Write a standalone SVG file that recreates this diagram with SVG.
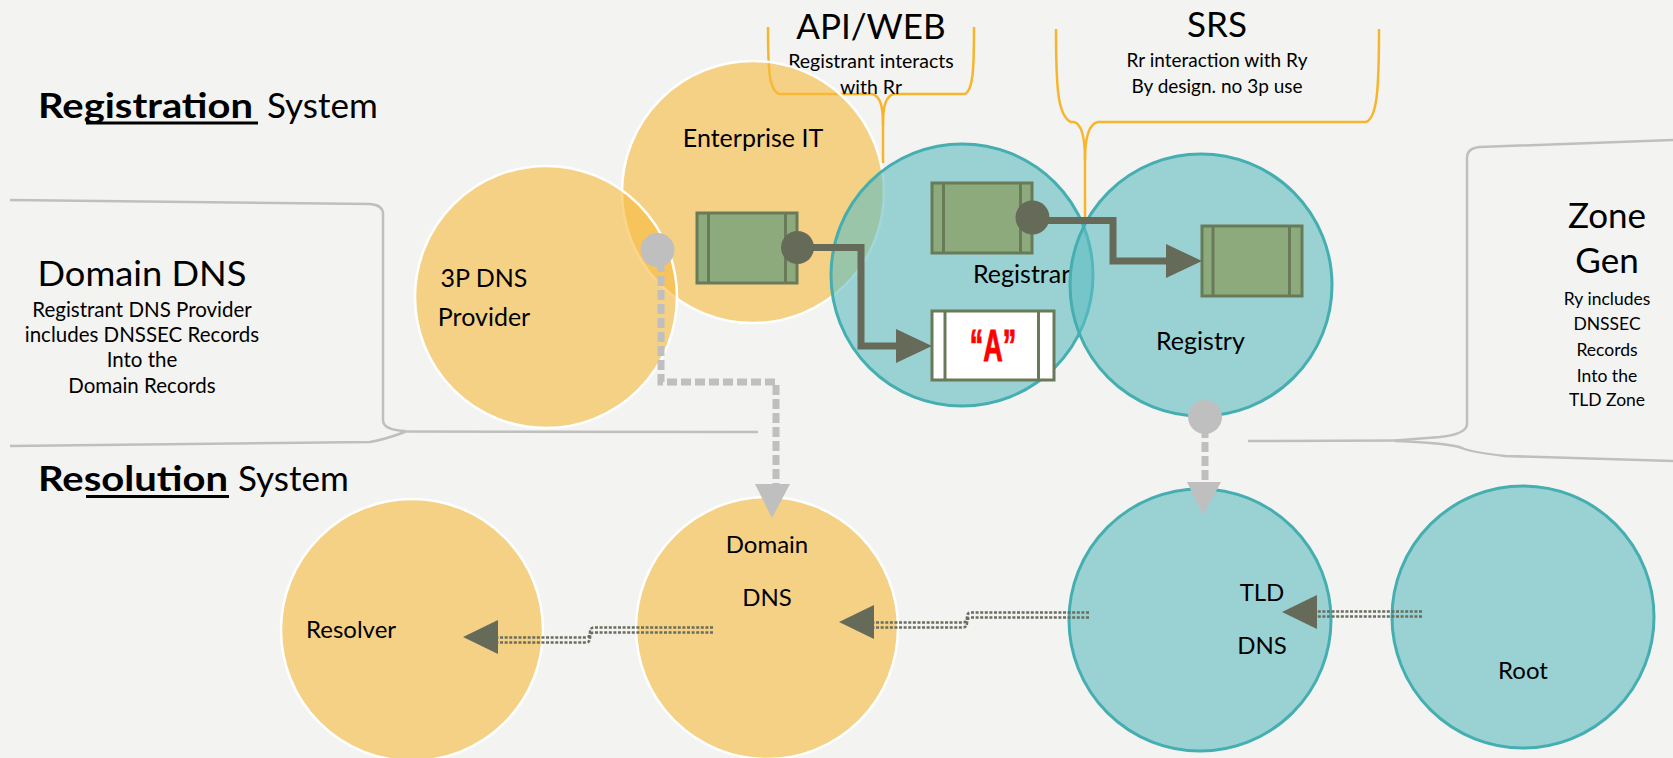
<svg xmlns="http://www.w3.org/2000/svg" xmlns:xlink="http://www.w3.org/1999/xlink" width="1673" height="758" viewBox="0 0 1673 758">
<style>
text{font-family:Lato,"Open Sans","Liberation Sans",sans-serif;fill:#000}
.sec{font-size:35px}
.small{font-size:18px;text-anchor:middle}
.dsub{font-size:20.5px}
.lbl{font-size:25px}
.mid{text-anchor:middle}
.yel{fill:#F6BA3F;fill-opacity:0.6;stroke:#FFFFFF;stroke-width:2.5}
.teal{fill:#5FBDC2;fill-opacity:0.6;stroke:#45AEB1;stroke-width:3}
.brk{fill:none;stroke:#BFBFBF;stroke-width:2.5}
.brace{fill:none;stroke:#F7B52C;stroke-width:2.5}
.rec{fill:#8DAA7C;stroke:#687A58;stroke-width:3}
.recw{fill:#FFFFFF;stroke:#687A58;stroke-width:3}
.dk{fill:none;stroke:#666A58;stroke-width:7}
.dkf{fill:#666A58}
.gr{fill:none;stroke:#BFBFBF;stroke-width:7;stroke-dasharray:10 4}
.grf{fill:#BFBFBF}
.dd{fill:none;stroke:#6A6E5F;stroke-width:2.6;stroke-dasharray:3 1.6}
</style>
<defs>
<path id="c1" d="M713,630 L594,630 Q590,630 590,635 Q590,640 586,640 L496,640"/>
<path id="c2" d="M1089,615 L971,615 Q967,615 967,620 Q967,625 963,625 L872,625"/>
<path id="c3" d="M1422,614 L1356,614 L1316,614"/>
</defs>
<rect x="0" y="0" width="1673" height="758" fill="#F3F3F1"/>

<g id="section-titles">
<text class="sec" x="38" y="118" font-weight="bold" textLength="215" lengthAdjust="spacingAndGlyphs">Registration</text>
<line x1="86" y1="123" x2="258" y2="123" stroke="#000" stroke-width="3"/>
<text class="sec" x="267" y="118">System</text>
<text class="sec" x="38" y="491" font-weight="bold" textLength="190" lengthAdjust="spacingAndGlyphs">Resolution</text>
<line x1="86" y1="496.5" x2="229" y2="496.5" stroke="#000" stroke-width="3"/>
<text class="sec" x="238" y="491">System</text>
</g>

<g id="bracket-domain-dns">
<path class="brk" d="M10,200 L370,204 Q383,205 383,214 L383,420 Q383,430 405,431"/>
<path class="brk" d="M10,446 L370,442 Q383,440 405,432"/>
<path class="brk" d="M400,431.5 L758,432" stroke-width="4"/>
<text class="mid" x="142" y="286" style="font-size:34px" textLength="209" lengthAdjust="spacingAndGlyphs">Domain DNS</text>
<text class="small dsub" x="142" y="317">Registrant DNS Provider</text>
<text class="small dsub" x="142" y="342">includes DNSSEC Records</text>
<text class="small dsub" x="142" y="367">Into the</text>
<text class="small dsub" x="142" y="393">Domain Records</text>
</g>

<g id="bracket-zone-gen">
<path class="brk" d="M1673,140 L1480,147 Q1467,148 1467,158 L1467,424 Q1467,434 1440,437 L1395,440.5"/>
<path class="brk" d="M1395,441 Q1450,443 1462,448 Q1470,452 1505,456 L1673,461"/>
<path class="brk" d="M1248,441 L1400,440.5" stroke-width="4"/>
<text class="mid" x="1607" y="228" style="font-size:35px">Zone</text>
<text class="mid" x="1607" y="273" style="font-size:35px">Gen</text>
<text class="small" x="1607" y="305" style="font-size:17.5px">Ry includes</text>
<text class="small" x="1607" y="330" style="font-size:17.5px">DNSSEC</text>
<text class="small" x="1607" y="356" style="font-size:17.5px">Records</text>
<text class="small" x="1607" y="382" style="font-size:17.5px">Into the</text>
<text class="small" x="1607" y="406" style="font-size:17.5px">TLD Zone</text>
</g>

<g id="brace-api-web">
<path class="brace" d="M768,27 C768,70 769,90 779,94 L872,94 C881,96 883,108 883,125 L883,163"/>
<path class="brace" d="M974,27 C974,70 973,90 965,94 L894,94 C885,96 883,108 883,125"/>
<text class="mid" x="871" y="39" style="font-size:35px">API/WEB</text>
<text class="small" x="871" y="68" style="font-size:19.5px">Registrant interacts</text>
<text class="small" x="871" y="94" style="font-size:19.5px">with Rr</text>
</g>

<g id="brace-srs">
<path class="brace" d="M1056,29 C1056,90 1058,116 1071,122 L1074,122 C1082,124 1085,140 1085,160 L1085,217"/>
<path class="brace" d="M1379,29 C1379,90 1377,118 1366,122 L1098,122 C1088,124 1085,140 1085,160"/>
<text class="mid" x="1217" y="37" style="font-size:35px">SRS</text>
<text class="small" x="1217" y="67" style="font-size:19px">Rr interaction with Ry</text>
<text class="small" x="1217" y="93" style="font-size:19px">By design. no 3p use</text>
</g>

<g id="node-enterprise-it">
<circle class="yel" cx="753" cy="192" r="131"/>
<text class="lbl mid" x="753" y="147">Enterprise IT</text>
</g>

<g id="node-3p-dns">
<circle class="yel" cx="546" cy="297" r="131"/>
<text class="lbl mid" x="484" y="287">3P DNS</text>
<text class="lbl mid" x="484" y="326">Provider</text>
</g>

<g id="node-registrar">
<circle class="teal" cx="962" cy="275" r="131"/>
<text class="lbl" x="973" y="283">Registrar</text>
</g>

<g id="node-registry">
<circle class="teal" cx="1201" cy="285" r="131"/>
<text class="lbl" x="1156" y="350">Registry</text>
</g>

<g id="node-resolver">
<circle class="yel" cx="412" cy="630" r="131"/>
<text class="lbl" x="306" y="638" style="font-size:24px">Resolver</text>
</g>

<g id="node-domain-dns">
<circle class="yel" cx="767" cy="628" r="131"/>
<text class="lbl mid" x="767" y="553" style="font-size:24px">Domain</text>
<text class="lbl mid" x="767" y="606" style="font-size:24px">DNS</text>
</g>

<g id="node-tld-dns">
<circle class="teal" cx="1200" cy="620" r="131"/>
<text class="lbl mid" x="1262" y="601" style="font-size:24px">TLD</text>
<text class="lbl mid" x="1262" y="654" style="font-size:24px">DNS</text>
</g>

<g id="node-root">
<circle class="teal" cx="1523" cy="617" r="131"/>
<text class="lbl mid" x="1523" y="679" style="font-size:24px">Root</text>
</g>

<g id="records">
<g id="record-enterprise">
<rect class="rec" x="697" y="213" width="100" height="70"/>
<line class="rec" x1="708.5" y1="213" x2="708.5" y2="283"/>
<line class="rec" x1="785.5" y1="213" x2="785.5" y2="283"/>
</g>
<g id="record-registrar">
<rect class="rec" x="932" y="183" width="100" height="70"/>
<line class="rec" x1="943.5" y1="183" x2="943.5" y2="253"/>
<line class="rec" x1="1020.5" y1="183" x2="1020.5" y2="253"/>
</g>
<g id="record-registry">
<rect class="rec" x="1202" y="226" width="100" height="70"/>
<line class="rec" x1="1213" y1="226" x2="1213" y2="296"/>
<line class="rec" x1="1289.5" y1="226" x2="1289.5" y2="296"/>
</g>
<g id="record-a">
<rect class="recw" x="932" y="311" width="122" height="69"/>
<line class="recw" x1="945" y1="311" x2="945" y2="380"/>
<line class="recw" x1="1038.5" y1="311" x2="1038.5" y2="380"/>
<text x="1655" y="361" transform="scale(0.6,1)" text-anchor="middle" style="font-family:'Liberation Sans',Arial,sans-serif;font-size:45px;font-weight:bold;fill:#FF0000;stroke:#FF0000;stroke-width:1">“A”</text>
</g>
</g>

<g id="connectors">
<path class="dk" d="M798,247.5 L861,247.5 L861,346 L898,346"/>
<circle class="dkf" cx="797.5" cy="247.5" r="16.5"/>
<polygon class="dkf" points="896,329 932,346 896,363"/>

<path class="dk" d="M1033,220.5 L1113,220.5 L1113,261 L1168,261"/>
<circle class="dkf" cx="1032.5" cy="217.5" r="17"/>
<polygon class="dkf" points="1166,244 1202,261 1166,278"/>

<path class="gr" d="M661,262 L661,382 L776,382 L776,486"/>
<circle class="grf" cx="657.5" cy="250" r="17"/>
<polygon class="grf" points="755,484 790,484 772,518"/>

<path class="gr" d="M1205,428 L1205,484"/>
<circle class="grf" cx="1205" cy="417" r="17"/>
<polygon class="grf" points="1187,482 1221,482 1203,515"/>

<use xlink:href="#c1" class="dd" transform="translate(0,-2.5)"/>
<use xlink:href="#c1" class="dd" transform="translate(0,2.5)"/>
<polygon class="dkf" points="463,637 498,620 498,654"/>

<use xlink:href="#c2" class="dd" transform="translate(0,-2.5)"/>
<use xlink:href="#c2" class="dd" transform="translate(0,2.5)"/>
<polygon class="dkf" points="839,622 874,605 874,639"/>

<use xlink:href="#c3" class="dd" transform="translate(0,-2.5)"/>
<use xlink:href="#c3" class="dd" transform="translate(0,2.5)"/>
<polygon class="dkf" points="1282,612 1317,595 1317,629"/>
</g>
</svg>
